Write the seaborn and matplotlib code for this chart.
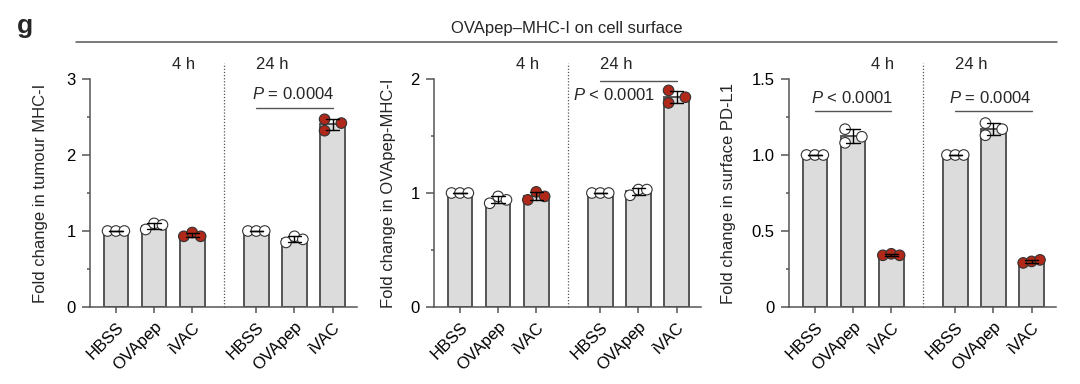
import matplotlib
matplotlib.use("Agg")
import matplotlib.pyplot as plt
from matplotlib.lines import Line2D
from matplotlib.ticker import MultipleLocator
import numpy as np
import pandas as pd
import seaborn as sns

# ---------------- data ----------------
treatments = ["HBSS", "OVApep", "iVAC"]
times = ["4 h", "24 h"]

# replicate values (3 per group), order: HBSS, OVApep, iVAC
tumour_mhc_4h = [[1.00, 1.00, 1.00], [1.02, 1.10, 1.08], [0.93, 0.98, 0.93]]
tumour_mhc_24h = [[1.00, 1.00, 1.00], [0.85, 0.93, 0.89], [2.47, 2.32, 2.42]]

ovapep_mhc_4h = [[1.00, 1.00, 1.00], [0.91, 0.97, 0.94], [0.94, 1.01, 0.97]]
ovapep_mhc_24h = [[1.00, 1.00, 1.00], [0.98, 1.03, 1.03], [1.90, 1.79, 1.84]]

pdl1_4h = [[1.00, 1.00, 1.00], [1.17, 1.08, 1.12], [0.34, 0.35, 0.34]]
pdl1_24h = [[1.00, 1.00, 1.00], [1.21, 1.13, 1.17], [0.29, 0.30, 0.31]]

ylabels = ["Fold change in tumour MHC-I",
           "Fold change in OVApep-MHC-I",
           "Fold change in surface PD-L1"]
ylims = [3.0, 2.0, 1.5]
ymajor = [1.0, 1.0, 0.5]
yticklabels = [["0", "1", "2", "3"], ["0", "1", "2"], ["0", "0.5", "1.0", "1.5"]]

p_texts = [["$P$ = 0.0004"], ["$P$ < 0.0001"], ["$P$ < 0.0001", "$P$ = 0.0004"]]

title = "OVApep\u2013MHC-I on cell surface"
panel_letter = "g"

# ---------------- style ----------------
sns.set_theme(style="ticks")
plt.rcParams["font.family"] = ["Liberation Sans", "DejaVu Sans"]
plt.rcParams["mathtext.fontset"] = "custom"
plt.rcParams["mathtext.rm"] = "Liberation Sans"
plt.rcParams["mathtext.it"] = "Liberation Sans:italic"

GAP = 1.68
BAR_FILL = "#dcdcdc"
EDGE = "#555555"
RED = "#b0281a"
FS = 12

# dot placement (layout): spread row by row, or two-left/one-right cluster
ROW = [-0.22, 0.0, 0.22]
CLUSTER = [-0.21, -0.21, 0.23]
cluster_groups = {(0, 1, 2), (1, 1, 2), (2, 0, 1), (2, 1, 1)}


def build_df(panel, v4, v24):
    rows = []
    for ti, vals in enumerate([v4, v24]):
        for ci, t in enumerate(treatments):
            offs = CLUSTER if (panel, ti, ci) in cluster_groups else ROW
            for r, v in enumerate(vals[ci]):
                pos = ci + ti * (2 + GAP)
                rows.append(dict(time=times[ti], treatment=t, pos=pos,
                                 dot_x=pos + offs[r], value=v))
    return pd.DataFrame(rows)


datasets = [build_df(0, tumour_mhc_4h, tumour_mhc_24h),
            build_df(1, ovapep_mhc_4h, ovapep_mhc_24h),
            build_df(2, pdl1_4h, pdl1_24h)]

fig = plt.figure(figsize=(10.8, 3.84), dpi=100)
W, H = 1080, 384
ax_lefts = [90, 434, 789]
ax_w = 267
ax_bottom_px, ax_top_px = 307, 79

label_x = [-0.158, -0.142, -0.20]
# p-annotation layout: (text_x, text_y, line_x0, line_x1, line_y)
p_layout = [
    [(4.66, 0.912, 3.68, 5.68, 0.873)],
    [(4.05, 0.908, 3.68, 5.68, 0.991)],
    [(0.96, 0.895, 0.0, 2.0, 0.86), (4.60, 0.895, 3.68, 5.68, 0.86)],
]

palette = {"HBSS": "white", "OVApep": "white", "iVAC": RED}

for i, df in enumerate(datasets):
    ax = fig.add_axes([ax_lefts[i] / W, 1 - ax_bottom_px / H,
                       ax_w / W, (ax_bottom_px - ax_top_px) / H])
    sns.barplot(data=df, x="pos", y="value", native_scale=True,
                errorbar="sd", capsize=0.35, width=0.65, saturation=1,
                color=BAR_FILL, edgecolor=EDGE, linewidth=1.4,
                err_kws=dict(color="black", linewidth=1.0, zorder=5), ax=ax)
    sns.scatterplot(data=df, x="dot_x", y="value", hue="treatment",
                    palette=palette, s=58, edgecolor="#333333",
                    linewidth=0.8, legend=False, zorder=4, ax=ax)

    positions = sorted(df["pos"].unique())
    ax.set_xlim(-0.68, 6.32)
    ax.set_ylim(0, ylims[i])
    ax.set_xticks(positions)
    ax.set_xticklabels(treatments * 2, rotation=45, ha="right",
                       rotation_mode="anchor", fontsize=12)
    yt = np.arange(0, ylims[i] + 1e-9, ymajor[i])
    ax.set_yticks(yt)
    ax.set_yticklabels(yticklabels[i], fontsize=12)
    ax.yaxis.set_minor_locator(MultipleLocator(ymajor[i] / 2))
    ax.set_xlabel("")
    ax.set_ylabel(ylabels[i], fontsize=FS)
    ax.yaxis.set_label_coords(label_x[i], 0.5)

    for s in ["top", "right"]:
        ax.spines[s].set_visible(False)
    for s in ["left", "bottom"]:
        ax.spines[s].set_color(EDGE)
        ax.spines[s].set_linewidth(1.1)
    ax.tick_params(axis="y", which="major", color=EDGE, width=1.1,
                   length=5.8, pad=4.5, labelcolor="black")
    ax.tick_params(axis="x", which="major", color=EDGE, width=1.1,
                   length=4.3, pad=4.5, labelcolor="black")
    ax.tick_params(axis="y", which="minor", color=EDGE, width=1.1, length=2.3)
    ax.tick_params(axis="x", which="minor", length=0)

    tr = ax.get_xaxis_transform()
    # dotted divider between time points
    ax.plot([2.84, 2.84], [0, 1.07], ls=(0, (1, 1.5)), color=EDGE, lw=0.9,
            transform=tr, clip_on=False)
    ax.text(1.76, 1.042, times[0], transform=tr, ha="center",
            va="baseline", fontsize=FS)
    ax.text(4.10, 1.042, times[1], transform=tr, ha="center",
            va="baseline", fontsize=FS)

    for txt, (tx, ty, lx0, lx1, ly) in zip(p_texts[i], p_layout[i]):
        ax.text(tx, ty, txt, transform=tr, ha="center", va="baseline",
                fontsize=FS)
        ax.plot([lx0, lx1], [ly, ly], color=EDGE, lw=1.0, transform=tr,
                clip_on=False)

fig.add_artist(Line2D([76 / W, 1057 / W], [1 - 41.5 / H] * 2,
                      color=EDGE, lw=1.1))
fig.text(567 / W, 1 - 28 / H, title, ha="center", va="center", fontsize=FS)
fig.text(25 / W, 1 - 26 / H, panel_letter, ha="center", va="center",
         fontsize=19, fontweight="bold")

fig.savefig("out.png", dpi=100)
